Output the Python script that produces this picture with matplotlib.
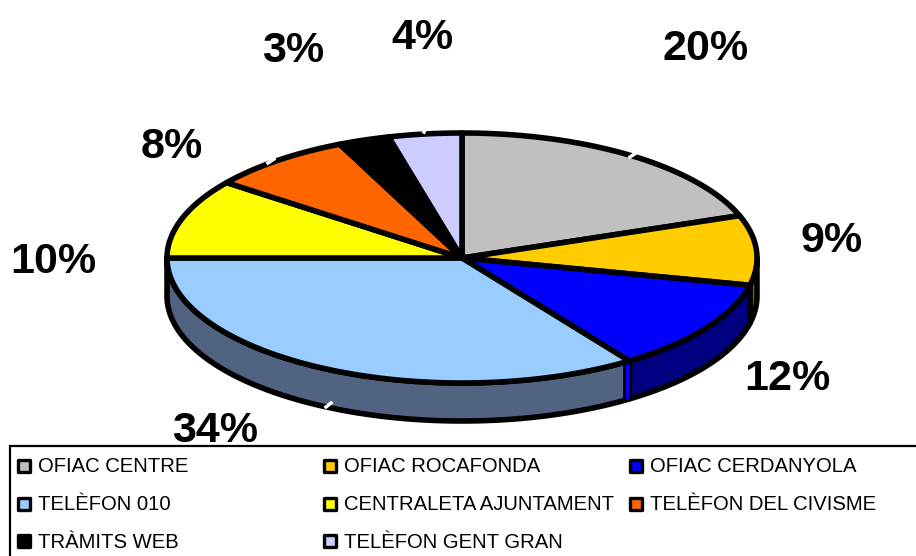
import numpy as np
import matplotlib
matplotlib.use("Agg")
import matplotlib.pyplot as plt
from matplotlib.patches import Polygon, Rectangle

categories = ["OFIAC CENTRE", "OFIAC ROCAFONDA", "OFIAC CERDANYOLA", "TELÈFON 010",
              "CENTRALETA AJUNTAMENT", "TELÈFON DEL CIVISME", "TRÀMITS WEB", "TELÈFON GENT GRAN"]
label_values = [20, 9, 12, 34, 10, 8, 3, 4]
slice_shares = [19.5, 9.0, 11.9, 34.6, 10.3, 7.9, 2.8, 4.0]
colors = ["#C0C0C0", "#FFCC00", "#0000FF", "#99CCFF", "#FFFF00", "#FF6600", "#000000", "#CCCCFF"]
side_colors = ["#606060", "#806600", "#000080", "#506482", "#808000", "#803300", "#000000", "#666680"]
label_pos = [(706, 49), (832, 241), (787, 379), (215, 431), (53, 262), (172, 147), (293, 51), (422, 38)]
legend_pos = [(16, 466), (322, 466), (628, 466), (16, 504), (322, 504), (628, 504), (16, 541), (322, 541)]

cx, cy, rx, ry, depth = 462, 258, 295, 125, 38

fig = plt.figure(figsize=(9.16, 5.56), dpi=100)
ax = fig.add_axes([0, 0, 1, 1])
ax.set_xlim(0, 916)
ax.set_ylim(556, 0)
ax.axis("off")

def pts(a0, a1, dy=0):
    t = np.linspace(a0, a1, 120)
    return np.column_stack([cx + rx*np.sin(t), cy - ry*np.cos(t) + dy])

fracs = np.cumsum([0] + slice_shares) / sum(slice_shares) * 2*np.pi
lw = 4.0
for i in range(len(slice_shares)):
    a0, a1 = max(fracs[i], np.pi/2), min(fracs[i+1], 3*np.pi/2)
    if a1 > a0:
        top = pts(a0, a1)
        bot = pts(a0, a1, depth)[::-1]
        ax.add_patch(Polygon(np.vstack([top, bot]), closed=True, fc=side_colors[i], ec="black",
                             lw=lw, joinstyle="round", zorder=2))
# narrow cut face showing at the front of the blue slice
jx, jy = pts(fracs[3], fracs[3])[0]
ax.add_patch(Rectangle((jx-4, jy), 4, depth, fc=colors[2], ec="none", zorder=2.5))
ax.plot([jx-5, jx-5], [jy, jy+depth], color="black", lw=2, zorder=2.6)
for i in range(len(slice_shares)):
    poly = np.vstack([[cx, cy], pts(fracs[i], fracs[i+1])])
    ax.add_patch(Polygon(poly, closed=True, fc=colors[i], ec="black", lw=lw, joinstyle="round", zorder=3))

for (x, y), v in zip(label_pos, label_values):
    ax.text(x, y, f"{v}%", ha="center", va="center", fontsize=31, fontweight="bold",
            family="Liberation Sans", color="black", zorder=6)

for seg in [((630, 157), (636, 153)), ((326, 407), (331, 403)), ((268, 163), (274, 159)), ((424, 132), (426, 128))]:
    ax.plot(*zip(*seg), color="white", lw=2.5, zorder=4)

ax.add_patch(Rectangle((9.5, 445.5), 920, 120, fc="white", ec="black", lw=1.6, zorder=4))
for (x, y), name, c in zip(legend_pos, categories, colors):
    ax.add_patch(Rectangle((x+2, y-6), 12, 12, fc=c, ec="black", lw=2.4, joinstyle="round", zorder=5))
    ax.text(x+22, y+1, name, ha="left", va="center", fontsize=14.6, family="Liberation Sans", zorder=5)

fig.savefig("out.png", dpi=100)
